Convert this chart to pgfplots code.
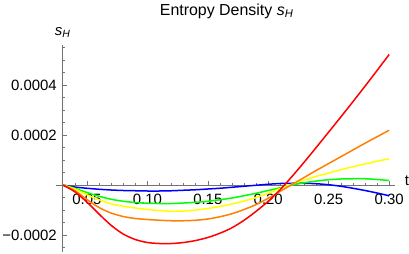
\documentclass[border=0pt]{standalone}
\usepackage{fontspec}
\setmainfont{Liberation Sans}
\usepackage{pgfplots}
\usepackage{pgfplotstable}
\pgfplotsset{compat=1.18}
\definecolor{axgray}{gray}{0.45}
\definecolor{mRed}{rgb}{1,0,0}
\definecolor{mOrange}{rgb}{1,0.5,0}
\definecolor{mYellow}{rgb}{1,1,0}
\definecolor{mGreen}{rgb}{0,1,0}
\definecolor{mBlue}{rgb}{0,0,1}

\pgfplotstableread{
t red orange yellow green blue
0.03 0 0 0 0 0
0.04 -0.000027 -0.000022 -0.000016 -0.000013 -0.000008
0.05 -0.000068 -0.000058 -0.000039 -0.000030 -0.000013
0.06 -0.000116 -0.000090 -0.000059 -0.000045 -0.000017
0.07 -0.000161 -0.000112 -0.000075 -0.000057 -0.000020
0.08 -0.000196 -0.000126 -0.000085 -0.000065 -0.000022
0.09 -0.000218 -0.000134 -0.000092 -0.000070 -0.000023
0.10 -0.000230 -0.000138 -0.000098 -0.000073 -0.000024
0.11 -0.000234 -0.000141 -0.000102 -0.000074 -0.000024
0.12 -0.000234 -0.000143 -0.000105 -0.000074 -0.000023
0.13 -0.000230 -0.000143 -0.000104 -0.000072 -0.000021
0.14 -0.000222 -0.000141 -0.000100 -0.000069 -0.000019
0.15 -0.000210 -0.000136 -0.000094 -0.000065 -0.000016
0.16 -0.000193 -0.000127 -0.000086 -0.000059 -0.000013
0.17 -0.000171 -0.000115 -0.000076 -0.000052 -0.000009
0.18 -0.000141 -0.000098 -0.000064 -0.000043 -0.000005
0.19 -0.000105 -0.000078 -0.000050 -0.000033 -0.000001
0.20 -0.000065 -0.000053 -0.000033 -0.000022 0.000003
0.21 -0.000018 -0.000025 -0.000014 -0.000011 0.000006
0.22 0.000036 0.000003 0.000004 0.000000 0.000007
0.23 0.000093 0.000031 0.000020 0.000009 0.000007
0.24 0.000152 0.000059 0.000035 0.000016 0.000005
0.25 0.000212 0.000086 0.000048 0.000021 0.000001
0.26 0.000272 0.000113 0.000061 0.000024 -0.000005
0.27 0.000333 0.000140 0.000073 0.000025 -0.000013
0.28 0.000395 0.000167 0.000084 0.000025 -0.000022
0.29 0.000458 0.000193 0.000095 0.000022 -0.000032
0.30 0.000522 0.000219 0.000105 0.000018 -0.000043
}\datatable

\begin{document}
\begin{tikzpicture}
\useasboundingbox (0,0) rectangle (409bp,254bp);
\begin{axis}[
  at={(62.7bp,2.5bp)}, anchor=south west,
  scale only axis, width=332.5bp, height=206.5bp,
  xmin=0.03, xmax=0.305, ymin=-0.000266, ymax=0.00056,
  axis x line=middle, axis y line=left,
  axis line style={-, draw=axgray, line width=0.6bp},
  x axis line style={-}, y axis line style={-},
  tick align=inside,
  major tick length=4bp, minor tick length=2.5bp,
  tick style={axgray, line width=0.5bp},
  scaled x ticks=false, scaled y ticks=false,
  xtick={0.05,0.1,0.15,0.2,0.25,0.3},
  xticklabels={0.05,0.10,0.15,0.20,0.25,0.30},
  minor xtick={0.04,0.06,0.07,0.08,0.09,0.11,0.12,0.13,0.14,0.16,0.17,0.18,0.19,0.21,0.22,0.23,0.24,0.26,0.27,0.28,0.29},
  ytick={-0.0002,0.0002,0.0004},
  yticklabels={−0.0002,0.0002,0.0004},
  minor ytick={-0.00025,-0.00015,-0.0001,-0.00005,0.00005,0.0001,0.00015,0.00025,0.0003,0.00035,0.00045,0.0005,0.00055},
  /pgf/number format/assume math mode=true,
  ticklabel style={font=\fontsize{15}{18}\selectfont},
  xticklabel style={anchor=base, yshift=-19.3bp},
  yticklabel style={anchor=east, inner sep=0pt, xshift=-5.7bp},
  xlabel={t},
  every axis x label/.style={at={(axis cs:0.305,0)}, anchor=base west, inner sep=0pt, xshift=9.5bp, font=\fontsize{15}{18}\selectfont},
  ylabel={\textit{s}\textsubscript{\textit{H}}},
  every axis y label/.style={at={(axis cs:0.03,0.00056)}, anchor=base, inner sep=0pt, yshift=9.5bp, font=\fontsize{15}{18}\selectfont},
  title={Entropy Density \textit{s}\textsubscript{\textit{H}}},
  every axis title/.style={at={(rel axis cs:0.493,1)}, anchor=base, inner sep=0pt, yshift=30bp, font=\fontsize{16}{19}\selectfont},
  clip=false,
  every axis plot/.append style={line width=1.5bp, smooth, no markers},
]
\addplot[mBlue] table[x=t,y=blue]{\datatable};
\addplot[mGreen] table[x=t,y=green]{\datatable};
\addplot[mYellow] table[x=t,y=yellow]{\datatable};
\addplot[mOrange] table[x=t,y=orange]{\datatable};
\addplot[mRed] table[x=t,y=red]{\datatable};
\draw[axgray, line width=0.6bp] (axis cs:0.0245,0) -- (axis cs:0.03,0);
\end{axis}
\end{tikzpicture}
\end{document}
